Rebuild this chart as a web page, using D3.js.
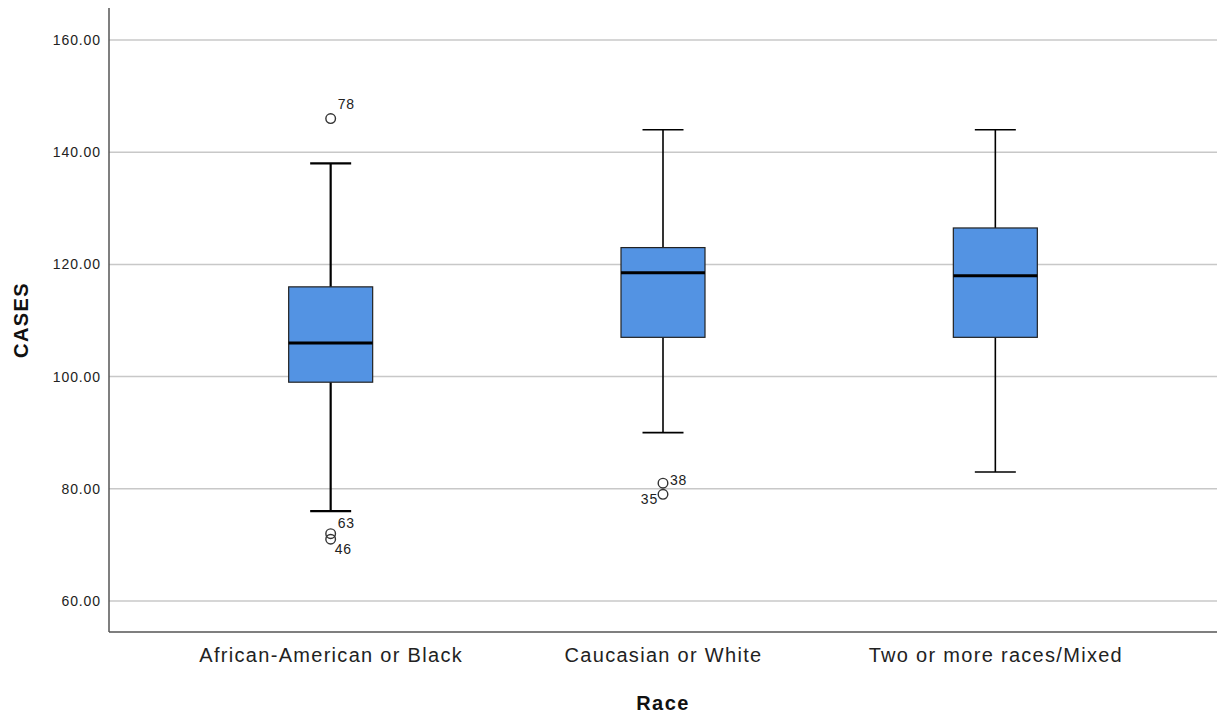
<!DOCTYPE html>
<html>
<head>
<meta charset="utf-8">
<script src="https://cdn.jsdelivr.net/npm/d3@7"></script>
<style>
  html, body { margin: 0; padding: 0; background: #fff; }
  svg { display: block; font-family: "Liberation Sans", Arial, sans-serif; }
</style>
</head>
<body>
<svg id="chart" width="1221" height="715"></svg>
<script>
const categories = ["African-American or Black", "Caucasian or White", "Two or more races/Mixed"];
const whiskerLow  = [76, 90, 83];
const q1          = [99, 107, 107];
const median      = [106, 118.5, 118];
const q3          = [116, 123, 126.5];
const whiskerHigh = [138, 144, 144];
const outlierCat   = [0, 0, 0, 1, 1];
const outlierValue = [146, 72, 71, 81, 79];
const outlierLabel = ["78", "63", "46", "38", "35"];
const yTicks = [60, 80, 100, 120, 140, 160];

(function () {
const svg = d3.select("#chart");
const pLeft = 109, pRight = 1217, pTop = 8, pBottom = 632;

const y = d3.scaleLinear().domain([54.46, 165.72]).range([pBottom, pTop]);
const x = d3.scalePoint().domain(categories).range([pLeft, pRight]).padding(0.667);

const boxW = 84, capW = 41;
// label placement offsets (dx, dy, anchor) per outlier, layout only
const labelPos = [[7, -10, "start"], [7, -6, "start"], [4, 15, "start"], [7, 2, "start"], [-5, 10, "end"]];

svg.append("g").selectAll("line").data(yTicks).join("line")
  .attr("x1", pLeft).attr("x2", pRight)
  .attr("y1", d => y(d)).attr("y2", d => y(d))
  .attr("stroke", "#c8c8c8").attr("stroke-width", 1.5);

const yAxis = svg.append("g").attr("transform", `translate(${pLeft},0)`)
  .call(d3.axisLeft(y).tickValues(yTicks).tickFormat(d3.format(".2f")).tickSize(0).tickPadding(8));
yAxis.select(".domain").remove();
yAxis.selectAll("text").attr("font-size", 14).attr("letter-spacing", "0.9px").attr("fill", "#222")
  .attr("font-family", "Liberation Sans, Arial, sans-serif");

const xAxis = svg.append("g").attr("transform", `translate(0,${pBottom})`)
  .call(d3.axisBottom(x).tickSize(0).tickPadding(16));
xAxis.select(".domain").remove();
xAxis.selectAll("text").attr("font-size", 20).attr("letter-spacing", "1.3px").attr("fill", "#222")
  .attr("font-family", "Liberation Sans, Arial, sans-serif");

svg.append("line").attr("x1", pLeft).attr("x2", pLeft).attr("y1", pTop).attr("y2", pBottom)
  .attr("stroke", "#555").attr("stroke-width", 1.5);
svg.append("line").attr("x1", pLeft).attr("x2", pRight).attr("y1", pBottom).attr("y2", pBottom)
  .attr("stroke", "#555").attr("stroke-width", 1.5);

const idx = d3.range(categories.length);
const g = svg.append("g");
idx.forEach(i => {
  const cx = x(categories[i]);
  const sw = i === 0 ? 2.2 : 1.6;
  g.append("line").attr("x1", cx).attr("x2", cx).attr("y1", y(whiskerHigh[i])).attr("y2", y(q3[i]))
    .attr("stroke", "#000").attr("stroke-width", sw);
  g.append("line").attr("x1", cx).attr("x2", cx).attr("y1", y(q1[i])).attr("y2", y(whiskerLow[i]))
    .attr("stroke", "#000").attr("stroke-width", sw);
  g.append("line").attr("x1", cx - capW/2).attr("x2", cx + capW/2)
    .attr("y1", y(whiskerHigh[i])).attr("y2", y(whiskerHigh[i])).attr("stroke", "#000").attr("stroke-width", sw);
  g.append("line").attr("x1", cx - capW/2).attr("x2", cx + capW/2)
    .attr("y1", y(whiskerLow[i])).attr("y2", y(whiskerLow[i])).attr("stroke", "#000").attr("stroke-width", sw);
  g.append("rect").attr("x", cx - boxW/2).attr("width", boxW)
    .attr("y", y(q3[i])).attr("height", y(q1[i]) - y(q3[i]))
    .attr("fill", "#5393e3").attr("stroke", "#222").attr("stroke-width", 1.2);
  g.append("line").attr("x1", cx - boxW/2).attr("x2", cx + boxW/2)
    .attr("y1", y(median[i])).attr("y2", y(median[i])).attr("stroke", "#000").attr("stroke-width", 3);
});

outlierValue.forEach((v, k) => {
  const cx = x(categories[outlierCat[k]]);
  const cy = y(v);
  g.append("circle").attr("cx", cx).attr("cy", cy).attr("r", 4.8)
    .attr("fill", "none").attr("stroke", "#333").attr("stroke-width", 1.4);
  const [dx, dy, anchor] = labelPos[k];
  g.append("text").attr("x", cx + dx).attr("y", cy + dy).attr("text-anchor", anchor)
    .attr("font-size", 14).attr("letter-spacing", "0.8px").attr("fill", "#222").text(outlierLabel[k]);
});

svg.append("text").attr("transform", `translate(28,${(pTop + pBottom) / 2}) rotate(-90)`)
  .attr("text-anchor", "middle").attr("font-size", 20).attr("letter-spacing", "1.4px").attr("font-weight", "bold")
  .attr("fill", "#111").text("CASES");
svg.append("text").attr("x", x(categories[1])).attr("y", 710)
  .attr("text-anchor", "middle").attr("font-size", 20).attr("letter-spacing", "1.4px").attr("font-weight", "bold")
  .attr("fill", "#111").text("Race");
})();
</script>
</body>
</html>
